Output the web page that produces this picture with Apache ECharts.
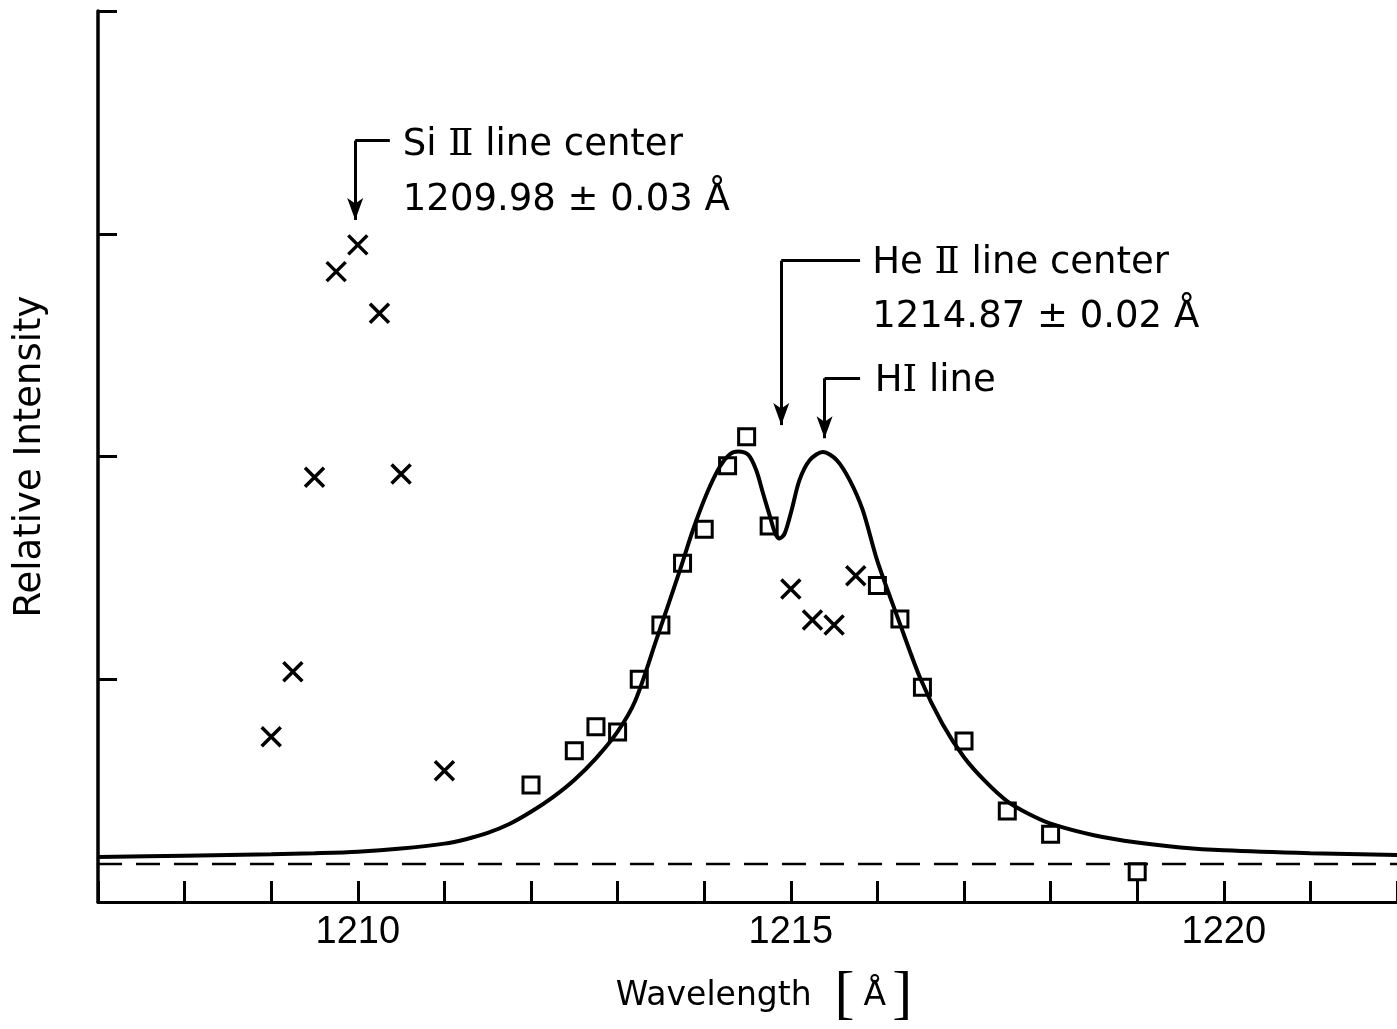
<!DOCTYPE html>
<html>
<head>
<meta charset="utf-8">
<title>Line profile near 1215 A</title>
<script src="https://cdn.jsdelivr.net/npm/echarts@6.0.0/dist/echarts.min.js"></script>
<style>
html, body {margin: 0; padding: 0; background: #fff;}
#main {width: 1397px; height: 1029px;}
</style>
</head>
<body>
<div id="main"></div>
<script>
// x axis labels (Angstrom)
var xTickLabels = [1210, 1215, 1220];

// fitted profile, solid curve
var fitWave = [1207.0, 1208.0, 1209.0, 1209.5, 1210.0, 1210.5, 1211.0, 1211.25, 1211.5, 1211.75,
               1212.0, 1212.25, 1212.5, 1212.75, 1213.0, 1213.2, 1213.45, 1213.72, 1213.87, 1214.03,
               1214.18, 1214.30, 1214.39, 1214.51, 1214.60, 1214.68, 1214.76, 1214.82, 1214.87, 1214.93,
               1215.01, 1215.10, 1215.22, 1215.37, 1215.53, 1215.68, 1215.83, 1216.0, 1216.25, 1216.5,
               1216.75, 1217.0, 1217.25, 1217.5, 1217.75, 1218.0, 1218.5, 1219.0, 1219.5, 1220.0,
               1221.0, 1222.0];
var fitInt  = [0.202, 0.208, 0.214, 0.219, 0.226, 0.240, 0.262, 0.282, 0.310, 0.350,
               0.405, 0.470, 0.548, 0.645, 0.765, 0.900, 1.180, 1.490, 1.670, 1.834,
               1.954, 2.011, 2.022, 2.007, 1.939, 1.834, 1.730, 1.655, 1.632, 1.655,
               1.760, 1.894, 1.984, 2.020, 1.984, 1.894, 1.760, 1.530, 1.260, 1.000,
               0.800, 0.650, 0.540, 0.452, 0.395, 0.352, 0.300, 0.267, 0.245, 0.232,
               0.219, 0.211];

// open squares
var sqWave = [1212.0, 1212.5, 1212.75, 1213.0, 1213.25, 1213.5, 1213.75, 1214.0, 1214.27, 1214.49,
              1214.75, 1216.0, 1216.26, 1216.52, 1217.0, 1217.5, 1218.0, 1219.0];
var sqInt  = [0.525, 0.679, 0.787, 0.763, 1.000, 1.244, 1.521, 1.673, 1.959, 2.089,
              1.688, 1.421, 1.270, 0.964, 0.723, 0.409, 0.304, 0.136];

// crosses
var crWave = [1209.0, 1209.25, 1209.5, 1209.75, 1210.0, 1210.25, 1210.5, 1211.0,
              1215.0, 1215.25, 1215.5, 1215.75];
var crInt  = [0.742, 1.034, 1.907, 2.830, 2.950, 2.643, 1.921, 0.589,
              1.405, 1.266, 1.244, 1.465];

// dashed background level
var baseLevel = 0.171;

// arrows: line position, elbow height, tip height, end of the horizontal leader
var arrowX    = [1209.97, 1214.89, 1215.39];
var arrowTop  = [3.418, 2.879, 2.351];
var arrowTip  = [3.062, 2.141, 2.082];
var leaderEnd = [1210.37, 1215.80, 1215.80];

// annotation texts ({r|..} = roman numeral)
var noteText = ['Si {r|\u2161} line center', '1209.98 \u00b1 0.03 \u00c5',
                'He {r|\u2161} line center', '1214.87 \u00b1 0.02 \u00c5', 'H{r|\u2160} line'];
var noteX = [1210.52, 1210.52, 1215.94, 1215.94, 1215.97];
var noteY = [3.395, 3.150, 2.865, 2.623, 2.335];

var chart = echarts.init(document.getElementById('main'));

function pairs(xs, ys) {
  return xs.map(function (x, i) { return [x, ys[i]]; });
}

var arrowLines = [];
arrowX.forEach(function (x, i) {
  arrowLines.push([
    {coord: [x, arrowTop[i]], symbol: 'none'},
    {coord: [x, arrowTip[i]], symbol: 'arrow', symbolSize: [12, 22]}
  ]);
  arrowLines.push([
    {coord: [x, arrowTop[i]], symbol: 'none'},
    {coord: [leaderEnd[i], arrowTop[i]], symbol: 'none'}
  ]);
});

var notes = noteText.map(function (t, i) {
  return {value: [noteX[i], noteY[i]], label: {formatter: t}};
});

var ink = '#000';
var font = 'DejaVu Sans';

var option = {
  animation: false,
  backgroundColor: '#fff',
  grid: {left: 98, right: 0, top: 11, bottom: 127, outerBoundsMode: 'none'},
  xAxis: {
    type: 'value',
    min: 1207, max: 1222, interval: 1,
    name: '{t|Wavelength}{b|[}{a|\u00c5}{c|]}',
    nameLocation: 'middle',
    nameGap: 64,
    nameTextStyle: {
      padding: [0, 0, 0, 33],
      rich: {
        t: {fontFamily: font, fontSize: 33, color: ink, verticalAlign: 'middle'},
        a: {fontFamily: font, fontSize: 33, color: ink, verticalAlign: 'middle', padding: [0, 0, 0, 9]},
        b: {fontFamily: 'Liberation Serif', fontSize: 60, color: ink, verticalAlign: 'middle', padding: [0, 0, 0, 23]},
        c: {fontFamily: 'Liberation Serif', fontSize: 60, color: ink, verticalAlign: 'middle', padding: [0, 0, 0, 6]}
      }
    },
    axisLine: {lineStyle: {color: ink, width: 3}},
    axisTick: {inside: true, length: 21, lineStyle: {color: ink, width: 3}},
    axisLabel: {
      margin: 12, color: ink, fontFamily: 'Liberation Sans', fontSize: 38,
      formatter: function (v) { return xTickLabels.indexOf(v) >= 0 ? String(v) : ''; }
    },
    splitLine: {show: false}
  },
  yAxis: {
    type: 'value',
    min: 0, max: 4, interval: 1,
    name: 'Relative Intensity',
    nameLocation: 'middle',
    nameGap: 49,
    nameTextStyle: {fontFamily: font, fontSize: 37, color: ink},
    axisLine: {lineStyle: {color: ink, width: 3.5}},
    axisTick: {inside: true, length: 19, lineStyle: {color: ink, width: 3}},
    axisLabel: {show: false},
    splitLine: {show: false}
  },
  series: [
    {
      name: 'base',
      type: 'line',
      data: [[1207, baseLevel], [1222, baseLevel]],
      symbol: 'none',
      silent: true,
      lineStyle: {color: ink, width: 2.5, type: [24, 14]},
      markLine: {
        silent: true,
        animation: false,
        label: {show: false},
        emphasis: {disabled: true},
        lineStyle: {color: ink, width: 3, type: 'solid'},
        data: arrowLines
      }
    },
    {
      name: 'fit',
      type: 'line',
      data: pairs(fitWave, fitInt),
      smooth: 0.3,
      symbol: 'none',
      silent: true,
      lineStyle: {color: ink, width: 4}
    },
    {
      name: 'squares',
      type: 'scatter',
      data: pairs(sqWave, sqInt),
      symbol: 'rect',
      symbolSize: 16,
      silent: true,
      itemStyle: {color: '#fff', borderColor: ink, borderWidth: 3, opacity: 1}
    },
    {
      name: 'crosses',
      type: 'scatter',
      data: pairs(crWave, crInt),
      symbol: 'path://M0,0L10,10M10,0L0,10',
      symbolSize: 19,
      silent: true,
      itemStyle: {color: 'rgba(0,0,0,0)', borderColor: ink, borderWidth: 3.5, opacity: 1}
    },
    {
      name: 'notes',
      type: 'scatter',
      data: notes,
      symbolSize: 0,
      silent: true,
      itemStyle: {opacity: 1},
      label: {
        show: true, position: 'right', distance: 0,
        color: ink, fontFamily: font, fontSize: 37,
        rich: {
          r: {fontFamily: 'DejaVu Serif', fontSize: 37, color: ink}
        }
      }
    }
  ]
};

chart.setOption(option);
</script>
</body>
</html>
